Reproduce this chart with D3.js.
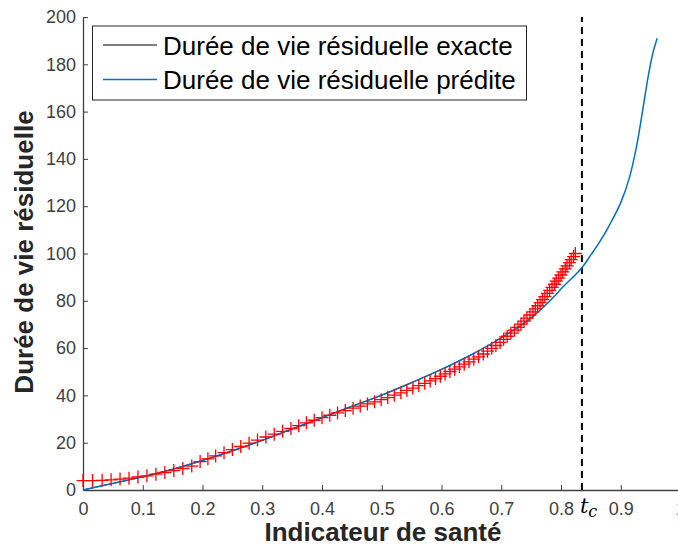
<!DOCTYPE html>
<html>
<head>
<meta charset="utf-8">
<script src="https://cdn.jsdelivr.net/npm/d3@7"></script>
<style>
  body { margin: 0; background: #fff; }
  svg { display: block; font-family: "Liberation Sans", Arial, sans-serif; }
</style>
</head>
<body>
<div id="chart"></div>
<script>
// Ticks
const xTicks = [0, 0.1, 0.2, 0.3, 0.4, 0.5, 0.6, 0.7, 0.8, 0.9, 1];
const yTicks = [0, 20, 40, 60, 80, 100, 120, 140, 160, 180, 200];

// Legend labels
const seriesNames = ["Durée de vie résiduelle exacte", "Durée de vie résiduelle prédite"];

// Critical threshold t_c
const tc = 0.835;

// Predicted RUL curve (blue)
const predX = [0, 0.05, 0.1, 0.15, 0.2, 0.25, 0.3, 0.35, 0.4, 0.45, 0.5, 0.55, 0.6, 0.65, 0.7, 0.75,
  0.78, 0.8, 0.835, 0.85, 0.865, 0.88, 0.9, 0.915, 0.927, 0.937, 0.946, 0.954, 0.961];
const predY = [0, 2.8, 5.6, 8.8, 12.5, 16.6, 21, 25.8, 30.6, 35.4, 40.1, 45.4, 51.0, 57.2, 64.3, 72.8,
  79.6, 85, 94, 99.4, 105, 111.5, 121.5, 132.5, 146, 161, 175, 185, 191];

// Exact RUL curve (black, under the blue one)
const exactX = [0, 0.05, 0.1, 0.15, 0.2, 0.25, 0.3, 0.35, 0.4, 0.45, 0.5, 0.55, 0.6, 0.65];
const exactY = [0, 2.8, 5.6, 8.8, 12.5, 16.6, 21, 25.8, 30.6, 35.4, 40.1, 45.4, 51.0, 57.2];

// Observed points (red +)
const obsX = [0.000, 0.016, 0.032, 0.047, 0.062, 0.077, 0.092, 0.107, 0.122, 0.137, 0.152, 0.167, 0.182,
  0.196, 0.209, 0.222, 0.236, 0.250, 0.264, 0.278, 0.292, 0.306, 0.320, 0.334, 0.348, 0.361, 0.374,
  0.387, 0.400, 0.413, 0.426, 0.439, 0.452, 0.464, 0.476, 0.488, 0.499, 0.510, 0.521, 0.532, 0.542,
  0.552, 0.562, 0.572, 0.581, 0.590, 0.598, 0.606, 0.614, 0.622, 0.630, 0.638, 0.646, 0.654, 0.662,
  0.670, 0.677, 0.684, 0.691, 0.698, 0.704, 0.710, 0.716, 0.722, 0.728, 0.733, 0.738, 0.743, 0.748,
  0.753, 0.757, 0.761, 0.765, 0.769, 0.773, 0.777, 0.781, 0.785, 0.789, 0.792, 0.796, 0.800, 0.803,
  0.807, 0.810, 0.814, 0.817, 0.821, 0.824];
const obsY = [4.0, 4.0, 4.1, 4.3, 4.6, 5.0, 5.5, 6.0, 6.7, 7.4, 8.2, 9.1, 10.1,
  12.0, 13.2, 14.4, 15.8, 17.1, 18.4, 19.8, 21.1, 22.4, 23.6, 24.8, 26.0, 27.2, 28.4,
  29.5, 30.6, 31.6, 32.6, 33.6, 34.6, 35.5, 36.4, 37.3, 38.2, 39.1, 40.1, 41.1, 42.1,
  43.1, 44.1, 45.1, 46.1, 47.1, 48.1, 49.1, 50.1, 51.1, 52.1, 53.2, 54.2, 55.3, 56.3,
  57.5, 58.7, 59.9, 61.1, 62.4, 63.7, 65.0, 66.3, 67.6, 68.8, 70.1, 71.4, 72.7, 74.0,
  75.3, 76.6, 77.9, 79.2, 80.5, 81.8, 83.1, 84.4, 85.7, 87.0, 88.3, 89.6, 90.9, 92.2,
  93.5, 94.8, 96.1, 97.4, 98.7, 100.0];

const W = 678, H = 550;
const axisColor = "#404040";

const svg = d3.select("#chart")
  .append("svg")
  .attr("width", W)
  .attr("height", H);

svg.append("rect").attr("width", W).attr("height", H).attr("fill", "#fff");

// Scales
const x = d3.scaleLinear().domain([0, 1]).range([83, 680.5]);
const y = d3.scaleLinear().domain([0, 200]).range([490, 17]);

// X axis
const gx = svg.append("g")
  .attr("transform", `translate(0,${y(0)})`)
  .call(d3.axisBottom(x)
    .tickValues(xTicks)
    .tickFormat(d3.format("~g"))
    .tickSize(-5)
    .tickSizeOuter(0)
    .tickPadding(12));

// Y axis
const gy = svg.append("g")
  .attr("transform", `translate(${x(0)},0)`)
  .call(d3.axisLeft(y)
    .tickValues(yTicks)
    .tickSize(-5)
    .tickSizeOuter(0)
    .tickPadding(7));

[gx, gy].forEach(g => {
  g.select(".domain").attr("stroke", axisColor).attr("stroke-width", 1.3);
  g.selectAll(".tick line").attr("stroke", axisColor).attr("stroke-width", 1);
  g.selectAll(".tick text")
    .attr("fill", "#404040")
    .style("font-size", "18px")
    .style("font-family", "'Liberation Sans', Arial, sans-serif");
});

// Axis labels
svg.append("text")
  .attr("x", 383)
  .attr("y", 541)
  .attr("text-anchor", "middle")
  .attr("fill", "#262626")
  .style("font-size", "26px")
  .style("font-weight", "bold")
  .text("Indicateur de santé");

svg.append("text")
  .attr("transform", "translate(33,252) rotate(-90)")
  .attr("text-anchor", "middle")
  .attr("fill", "#262626")
  .style("font-size", "26px")
  .style("font-weight", "bold")
  .text("Durée de vie résiduelle");

// Dashed threshold line
svg.append("line")
  .attr("x1", x(tc)).attr("x2", x(tc))
  .attr("y1", y(0)).attr("y2", y(200))
  .attr("stroke", "#000")
  .attr("stroke-width", 2)
  .attr("stroke-dasharray", "7,5");

svg.append("text")
  .attr("x", x(tc) - 2)
  .attr("y", 513)
  .style("font-family", "'DejaVu Serif', 'Liberation Serif', serif")
  .style("font-style", "italic")
  .style("font-size", "21px")
  .attr("fill", "#000")
  .text("t")
  .append("tspan")
  .attr("dy", 4)
  .style("font-size", "16px")
  .text("c");

// Lines
const line = d3.line()
  .x(d => x(d[0]))
  .y(d => y(d[1]))
  .curve(d3.curveCatmullRom.alpha(0.5));

svg.append("path")
  .datum(d3.zip(exactX, exactY))
  .attr("d", line)
  .attr("fill", "none")
  .attr("stroke", "#000")
  .attr("stroke-width", 1);

svg.append("path")
  .datum(d3.zip(predX, predY))
  .attr("d", line)
  .attr("fill", "none")
  .attr("stroke", "#0072BD")
  .attr("stroke-width", 1.5);

// Observed points as "+"
svg.append("g")
  .selectAll("path")
  .data(d3.zip(obsX, obsY))
  .join("path")
  .attr("transform", d => `translate(${x(d[0])},${y(d[1])})`)
  .attr("d", "M-6.5,0H6.5M0,-6.5V6.5")
  .attr("fill", "none")
  .attr("stroke", "#ff0000")
  .attr("stroke-width", 1.3);

// Legend
const legend = svg.append("g");
legend.append("rect")
  .attr("x", 92.5).attr("y", 26)
  .attr("width", 434).attr("height", 74)
  .attr("fill", "#fff")
  .attr("stroke", "#262626")
  .attr("stroke-width", 1);

const legendColors = ["#000", "#0072BD"];
seriesNames.forEach((name, i) => {
  const ly = 45 + i * 34.5;
  legend.append("line")
    .attr("x1", 103).attr("x2", 157)
    .attr("y1", ly).attr("y2", ly)
    .attr("stroke", legendColors[i])
    .attr("stroke-width", i === 0 ? 1 : 1.5);
  legend.append("text")
    .attr("x", 163)
    .attr("y", ly + 9.5)
    .attr("fill", "#000")
    .style("font-size", "26px")
    .text(name);
});
</script>
</body>
</html>
